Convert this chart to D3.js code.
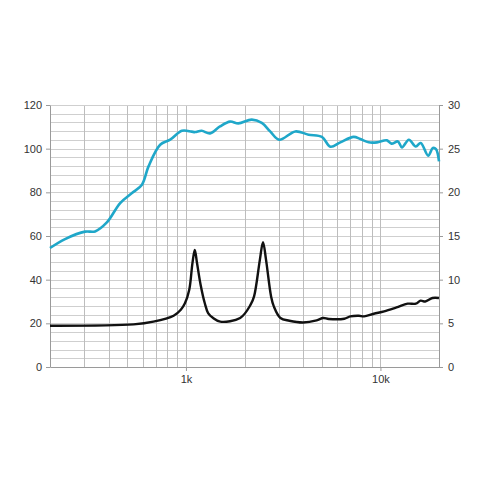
<!DOCTYPE html>
<html lang='en'>
  <head>
    <meta charset='utf-8'>
    <title>Frequency response and impedance</title>
    <script src='https://d3js.org/d3.v7.min.js'></script>
    <style>
      html, body { margin: 0; padding: 0; background: #fff; }
      .tick text { font-family: 'Liberation Sans', Arial, sans-serif; font-size: 11px; fill: #333; }
    </style>
  </head>
  <body>
    <div class='vis'></div>
    <script>
      // SPL response (left axis)
      const splFreq = [200, 239, 303, 341, 392, 459, 528, 594, 642, 737, 830, 954, 1070, 1113, 1205, 1330, 1497, 1686, 1860, 2180, 2455, 2710, 3017, 3650, 4270, 5000, 5530, 6220, 7280, 7880, 8700, 9600, 10800, 11400, 12300, 12900, 14000, 15200, 16100, 17600, 18600, 19300, 20000];
      const splValue = [54.5, 58.6, 62, 62.1, 66.2, 75.1, 79.7, 83.5, 91.9, 101.8, 104.1, 108.2, 107.8, 107.6, 108.2, 107, 110.2, 112.4, 111.6, 113.3, 111.8, 107.9, 104.1, 107.9, 106.4, 105.4, 100.9, 102.9, 105.4, 104.4, 102.9, 102.9, 103.8, 102.3, 103.3, 100.6, 104.1, 101, 102.6, 96.8, 100.3, 99.8, 94.2];

      // impedance (right axis)
      const impFreq = [200, 538, 680, 864, 941, 988, 1040, 1080, 1110, 1140, 1190, 1250, 1300, 1380, 1500, 1900, 2150, 2240, 2400, 2490, 2580, 2740, 2830, 3060, 3400, 4000, 4700, 5080, 5420, 6520, 7000, 7750, 8240, 9240, 10450, 12100, 13800, 15200, 16100, 17000, 18500, 20000];
      const impValue = [4.73, 4.88, 5.19, 5.87, 6.56, 7.3, 8.85, 11.9, 13.4, 11.9, 9.4, 7.3, 6.18, 5.6, 5.19, 5.61, 7.13, 8.08, 12.3, 14.3, 12.3, 8.08, 6.94, 5.61, 5.3, 5.1, 5.34, 5.61, 5.5, 5.53, 5.8, 5.87, 5.8, 6.1, 6.37, 6.82, 7.25, 7.25, 7.6, 7.5, 7.9, 7.9];

      const gridFreqs = [300, 400, 500, 600, 700, 800, 900, 1000, 2000, 3000, 4000, 5000, 6000, 7000, 8000, 9000, 10000];
      const xTickFreqs = [1000, 10000];
      const xTickLabels = ['1k', '10k'];
      const leftTicks = [0, 20, 40, 60, 80, 100, 120];
      const rightTicks = [0, 5, 10, 15, 20, 25, 30];

      const margin = {top: 105, right: 41, bottom: 113, left: 50};
      const width = 480 - margin.left - margin.right;
      const height = 480 - margin.top - margin.bottom;

      const svg = d3.select('.vis').append('svg')
        .attr('width', 480)
        .attr('height', 480);

      const g = svg.append('g')
        .attr('transform', 'translate(' + margin.left + ',' + margin.top + ')');

      const x = d3.scaleLog().domain([200, 20000]).range([0, width]);
      const yL = d3.scaleLinear().domain([0, 120]).range([height, 0]);
      const yR = d3.scaleLinear().domain([0, 30]).range([height, 0]);

      // grid
      g.append('g').selectAll('line')
        .data(d3.range(1, 30))
        .enter().append('line')
          .attr('x1', 0).attr('x2', width)
          .attr('y1', (d) => Math.round(yR(d)) + 0.5)
          .attr('y2', (d) => Math.round(yR(d)) + 0.5)
          .attr('stroke', '#cfcfcf');
      g.append('g').selectAll('line')
        .data(gridFreqs)
        .enter().append('line')
          .attr('y1', 0).attr('y2', height)
          .attr('x1', (d) => Math.round(x(d)) + 0.5)
          .attr('x2', (d) => Math.round(x(d)) + 0.5)
          .attr('stroke', '#bdbdbd');
      g.append('line')
        .attr('x1', 0).attr('x2', width).attr('y1', 0.5).attr('y2', 0.5)
        .attr('stroke', '#cfcfcf');

      // axes
      const styleAxis = (sel) => {
        sel.select('.domain').attr('stroke', '#9a9a9a');
        sel.selectAll('.tick line').attr('stroke', '#9a9a9a');
        sel.selectAll('.tick text').attr('fill', '#333');
      };
      g.append('g')
        .call(d3.axisLeft(yL).tickValues(leftTicks).tickSize(4).tickSizeOuter(0).tickPadding(4))
        .call(styleAxis);
      g.append('g')
        .attr('transform', 'translate(' + width + ',0)')
        .call(d3.axisRight(yR).tickValues(rightTicks).tickSize(4).tickSizeOuter(0).tickPadding(5))
        .call(styleAxis);
      g.append('g')
        .attr('transform', 'translate(0,' + height + ')')
        .call(d3.axisBottom(x).tickValues(xTickFreqs).tickFormat((d, i) => xTickLabels[i]).tickSize(4).tickSizeOuter(0).tickPadding(4))
        .call(styleAxis);

      // curves
      const splLine = d3.line()
        .x((d, i) => x(splFreq[i]))
        .y((d) => yL(d))
        .curve(d3.curveCatmullRom.alpha(0.5));
      const impLine = d3.line()
        .x((d, i) => x(impFreq[i]))
        .y((d) => yR(d))
        .curve(d3.curveCatmullRom.alpha(0.5));

      g.append('path')
        .datum(impValue)
        .attr('d', impLine)
        .attr('fill', 'none')
        .attr('stroke', '#111')
        .attr('stroke-width', 2.4);
      g.append('path')
        .datum(splValue)
        .attr('d', splLine)
        .attr('fill', 'none')
        .attr('stroke', '#1fa7c9')
        .attr('stroke-width', 2.6);
    </script>
  </body>
</html>
